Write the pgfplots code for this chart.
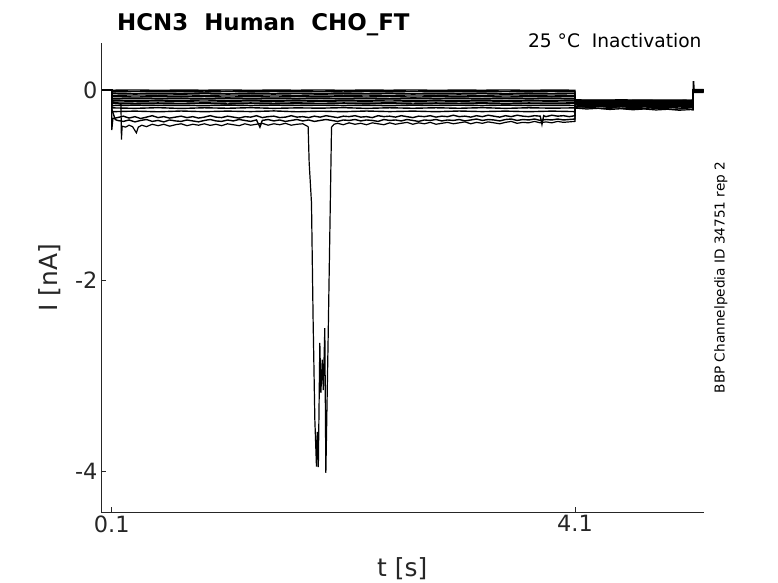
\documentclass[border=0pt]{standalone}
\usepackage{fontspec}
\setmainfont{DejaVu Sans}
\usepackage{pgfplots}
\pgfplotsset{compat=1.18}
\usepackage{pgfplotstable}
\definecolor{axc}{RGB}{38,38,38}

\pgfplotstableread{
t s1 s2 s3 s4 s5 s6 s7 s8 s9 s10 s11 s12
0.02 0 0 0 0 0 0 0 0 0 0 0 0
0.1 0 0 0 0 0 0 0 0 0 0 0 0
0.1  -0.003 -0.020 -0.034 -0.056 -0.070 -0.092 -0.106 -0.128 -0.142 -0.164 -0.188 -0.228
0.3   0.000 -0.016 -0.038 -0.052 -0.074 -0.088 -0.110 -0.124 -0.146 -0.160 -0.193 -0.222
0.5  -0.004 -0.019 -0.035 -0.055 -0.071 -0.091 -0.107 -0.127 -0.143 -0.163 -0.186 -0.229
0.7  -0.001 -0.017 -0.037 -0.051 -0.073 -0.089 -0.109 -0.123 -0.145 -0.161 -0.194 -0.221
0.9  -0.003 -0.021 -0.033 -0.056 -0.069 -0.092 -0.105 -0.128 -0.141 -0.165 -0.187 -0.228
1.1   0.000 -0.015 -0.038 -0.052 -0.075 -0.087 -0.110 -0.124 -0.147 -0.159 -0.192 -0.222
1.3  -0.004 -0.020 -0.035 -0.055 -0.070 -0.091 -0.106 -0.127 -0.142 -0.164 -0.186 -0.227
1.5  -0.001 -0.016 -0.037 -0.052 -0.074 -0.088 -0.109 -0.124 -0.146 -0.160 -0.193 -0.220
1.7  -0.003 -0.019 -0.034 -0.056 -0.071 -0.092 -0.107 -0.128 -0.143 -0.163 -0.188 -0.229
1.9   0.000 -0.017 -0.038 -0.051 -0.073 -0.087 -0.110 -0.123 -0.145 -0.160 -0.191 -0.223
2.1  -0.004 -0.021 -0.035 -0.055 -0.070 -0.091 -0.106 -0.127 -0.142 -0.164 -0.186 -0.228
2.3  -0.001 -0.016 -0.037 -0.053 -0.074 -0.089 -0.109 -0.125 -0.146 -0.161 -0.193 -0.221
2.5  -0.003 -0.020 -0.034 -0.056 -0.069 -0.092 -0.105 -0.128 -0.141 -0.165 -0.187 -0.227
2.7   0.000 -0.015 -0.038 -0.052 -0.075 -0.088 -0.110 -0.124 -0.147 -0.160 -0.192 -0.222
2.9  -0.004 -0.019 -0.035 -0.055 -0.071 -0.091 -0.107 -0.127 -0.143 -0.163 -0.187 -0.228
3.1  -0.001 -0.017 -0.037 -0.052 -0.073 -0.088 -0.109 -0.124 -0.145 -0.160 -0.192 -0.221
3.3  -0.003 -0.020 -0.034 -0.056 -0.070 -0.092 -0.106 -0.128 -0.142 -0.164 -0.186 -0.227
3.5   0.000 -0.016 -0.038 -0.051 -0.074 -0.087 -0.110 -0.123 -0.146 -0.159 -0.193 -0.222
3.7  -0.004 -0.020 -0.035 -0.055 -0.071 -0.091 -0.107 -0.127 -0.143 -0.164 -0.187 -0.228
3.9  -0.001 -0.016 -0.037 -0.053 -0.073 -0.089 -0.109 -0.125 -0.145 -0.161 -0.191 -0.222
4.1  -0.003 -0.019 -0.034 -0.056 -0.070 -0.092 -0.106 -0.128 -0.142 -0.163 -0.188 -0.227
4.1  -0.104 -0.110 -0.114 -0.121 -0.124 -0.131 -0.134 -0.141 -0.144 -0.151 -0.158 -0.171
4.3  -0.107 -0.108 -0.117 -0.119 -0.127 -0.129 -0.137 -0.139 -0.147 -0.149 -0.162 -0.168
4.5  -0.104 -0.111 -0.114 -0.122 -0.124 -0.132 -0.134 -0.142 -0.144 -0.152 -0.159 -0.172
4.7  -0.107 -0.109 -0.117 -0.119 -0.127 -0.129 -0.137 -0.139 -0.147 -0.150 -0.163 -0.169
4.9  -0.105 -0.112 -0.115 -0.122 -0.125 -0.132 -0.135 -0.142 -0.145 -0.153 -0.160 -0.173
5.1  -0.108 -0.109 -0.118 -0.120 -0.128 -0.130 -0.138 -0.140 -0.148 -0.150 -0.164 -0.170
5.12 -0.106 -0.111 -0.116 -0.121 -0.126 -0.131 -0.136 -0.141 -0.146 -0.151 -0.161 -0.172
5.12  0.004  0.002  0.000 -0.002 -0.004 -0.006 -0.008 -0.010 -0.012 -0.014 -0.016 -0.018
5.21  0.004  0.002  0.000 -0.002 -0.004 -0.006 -0.008 -0.010 -0.012 -0.014 -0.016 -0.018
}\band

\begin{document}
\begin{tikzpicture}
\useasboundingbox (-101bp,-71bp) rectangle (677bp,512bp);
\begin{axis}[at={(0,0)}, anchor=south west, scale only axis,
 width=603bp, height=469bp,
 xmin=0.0076, xmax=5.214, ymin=-4.43, ymax=0.493,
 axis x line*=bottom, axis y line*=left,
 xtick={0.1,4.1}, xticklabels={0.1,4.1},
 ytick={-4,-2,0}, yticklabels={-4,-2,0},
 tick align=inside, major tick length=5bp,
 every tick/.style={axc, line width=0.6bp},
 axis line style={axc, line width=0.7bp},
 ticklabel style={font=\fontsize{22.5}{22.5}\selectfont, text=axc},
]
\pgfplotsinvokeforeach{1,...,12}{\addplot[black, line width=1.4bp] table[x=t, y=s#1] {\band};}
% noisy trace 1
\addplot[black, line width=1.4bp] coordinates {(0.02,0)(0.1,0)(0.1,-0.42)(0.11,-0.30)(0.15,-0.29)(0.20,-0.275)(0.25,-0.295)(0.30,-0.28)(0.35,-0.30)(0.40,-0.285)(0.45,-0.27)(0.50,-0.29)(0.55,-0.28)(0.60,-0.295)(0.65,-0.285)(0.70,-0.275)(0.75,-0.29)(0.80,-0.28)(0.85,-0.295)(0.90,-0.285)(0.95,-0.27)(1.00,-0.285)(1.05,-0.29)(1.10,-0.275)(1.15,-0.285)(1.20,-0.295)(1.25,-0.28)(1.30,-0.285)(1.35,-0.27)(1.40,-0.29)(1.45,-0.28)(1.50,-0.275)(1.55,-0.29)(1.60,-0.285)(1.65,-0.27)(1.70,-0.285)(1.75,-0.28)(1.80,-0.29)(1.85,-0.275)(1.90,-0.285)(1.95,-0.27)(2.00,-0.28)(2.05,-0.29)(2.10,-0.275)(2.15,-0.28)(2.20,-0.27)(2.25,-0.285)(2.30,-0.28)(2.35,-0.29)(2.40,-0.27)(2.45,-0.28)(2.50,-0.275)(2.55,-0.285)(2.60,-0.27)(2.65,-0.28)(2.70,-0.29)(2.75,-0.275)(2.80,-0.28)(2.85,-0.27)(2.90,-0.285)(2.95,-0.275)(3.00,-0.28)(3.05,-0.265)(3.10,-0.28)(3.15,-0.275)(3.20,-0.285)(3.25,-0.27)(3.30,-0.28)(3.35,-0.265)(3.40,-0.275)(3.45,-0.285)(3.50,-0.27)(3.55,-0.28)(3.60,-0.265)(3.65,-0.275)(3.70,-0.28)(3.75,-0.27)(3.80,-0.275)(3.815,-0.36)(3.83,-0.27)(3.85,-0.28)(3.90,-0.265)(3.95,-0.275)(4.00,-0.27)(4.05,-0.28)(4.10,-0.27)
(4.1,-0.175)(4.2,-0.18)(4.3,-0.172)(4.4,-0.183)(4.5,-0.176)(4.6,-0.185)(4.7,-0.178)(4.8,-0.186)(4.9,-0.18)(5.0,-0.19)(5.1,-0.183)(5.12,-0.188)(5.12,-0.02)(5.21,-0.02)};
% noisy trace 2
\addplot[black, line width=1.4bp] coordinates {(0.02,0)(0.1,0)(0.1,-0.2)(0.13,-0.31)(0.15,-0.32)(0.2,-0.33)(0.25,-0.315)(0.3,-0.335)(0.35,-0.32)(0.4,-0.31)(0.45,-0.33)(0.5,-0.32)(0.55,-0.335)(0.6,-0.315)(0.65,-0.325)(0.7,-0.33)(0.75,-0.315)(0.8,-0.325)(0.85,-0.335)(0.9,-0.32)(0.95,-0.31)(1.0,-0.325)(1.05,-0.33)(1.1,-0.315)(1.15,-0.325)(1.2,-0.31)(1.25,-0.32)(1.3,-0.33)(1.35,-0.315)(1.38,-0.39)(1.40,-0.32)(1.45,-0.31)(1.5,-0.325)(1.55,-0.315)(1.6,-0.33)(1.65,-0.32)(1.7,-0.31)(1.75,-0.325)(1.8,-0.315)(1.85,-0.33)(1.9,-0.32)(1.95,-0.31)(2.0,-0.32)(2.05,-0.33)(2.1,-0.315)(2.15,-0.32)(2.2,-0.31)(2.25,-0.325)(2.3,-0.315)(2.35,-0.32)(2.4,-0.33)(2.45,-0.31)(2.5,-0.32)(2.55,-0.315)(2.6,-0.325)(2.65,-0.31)(2.7,-0.32)(2.75,-0.33)(2.8,-0.315)(2.85,-0.32)(2.9,-0.31)(2.95,-0.325)(3.0,-0.315)(3.05,-0.32)(3.1,-0.31)(3.15,-0.325)(3.2,-0.315)(3.25,-0.305)(3.3,-0.32)(3.35,-0.31)(3.4,-0.315)(3.45,-0.325)(3.5,-0.31)(3.55,-0.305)(3.6,-0.32)(3.65,-0.31)(3.7,-0.315)(3.75,-0.305)(3.8,-0.32)(3.85,-0.31)(3.9,-0.315)(3.95,-0.305)(4.0,-0.315)(4.05,-0.31)(4.1,-0.305)
(4.1,-0.185)(4.15,-0.192)(4.25,-0.186)(4.35,-0.195)(4.45,-0.188)(4.55,-0.197)(4.65,-0.19)(4.75,-0.2)(4.85,-0.193)(4.95,-0.203)(5.05,-0.196)(5.12,-0.205)(5.12,-0.025)(5.21,-0.025)};
% noisy trace 3 with the large inward excursion
\addplot[black, line width=1.2bp] coordinates {(0.02,0)(0.1,0)(0.1,-0.12)(0.15,-0.14)(0.18,-0.15)(0.184,-0.52)(0.19,-0.38)(0.22,-0.39)(0.25,-0.37)(0.28,-0.385)(0.313,-0.45)(0.33,-0.39)(0.36,-0.37)(0.4,-0.385)(0.45,-0.36)(0.5,-0.375)(0.55,-0.36)(0.6,-0.38)(0.65,-0.365)(0.7,-0.355)(0.75,-0.375)(0.8,-0.36)(0.85,-0.37)(0.9,-0.355)(0.95,-0.372)(1.0,-0.36)(1.05,-0.375)(1.1,-0.355)(1.15,-0.365)(1.2,-0.375)(1.25,-0.355)(1.3,-0.37)(1.35,-0.36)(1.4,-0.35)(1.45,-0.37)(1.5,-0.355)(1.55,-0.365)(1.6,-0.35)(1.65,-0.37)(1.7,-0.36)(1.75,-0.355)(1.796,-0.385)(1.805,-0.766)(1.825,-1.186)(1.839,-2.413)(1.854,-3.463)(1.868,-3.953)(1.875,-3.59)(1.884,-3.96)(1.897,-2.655)(1.906,-3.18)(1.918,-2.83)(1.927,-3.15)(1.94,-2.50)(1.949,-4.02)(1.969,-2.59)(1.998,-0.39)(2.02,-0.36)(2.05,-0.35)(2.1,-0.365)(2.15,-0.345)(2.2,-0.36)(2.25,-0.35)(2.3,-0.365)(2.35,-0.345)(2.4,-0.355)(2.45,-0.365)(2.5,-0.345)(2.55,-0.36)(2.6,-0.35)(2.65,-0.34)(2.7,-0.36)(2.75,-0.345)(2.8,-0.355)(2.85,-0.34)(2.9,-0.36)(2.95,-0.35)(3.0,-0.34)(3.05,-0.355)(3.1,-0.345)(3.15,-0.335)(3.2,-0.355)(3.25,-0.34)(3.3,-0.35)(3.35,-0.335)(3.4,-0.345)(3.45,-0.355)(3.5,-0.34)(3.55,-0.33)(3.6,-0.35)(3.65,-0.34)(3.7,-0.345)(3.75,-0.33)(3.8,-0.345)(3.85,-0.335)(3.9,-0.345)(3.95,-0.33)(4.0,-0.34)(4.05,-0.335)(4.1,-0.33)
(4.1,-0.19)(4.2,-0.2)(4.3,-0.193)(4.4,-0.205)(4.5,-0.197)(4.6,-0.208)(4.7,-0.2)(4.8,-0.21)(4.9,-0.203)(5.0,-0.213)(5.1,-0.206)(5.12,-0.21)(5.12,0.087)(5.125,0.087)(5.13,-0.01)(5.21,-0.01)};
\end{axis}
\node[anchor=base west, font=\fontsize{23}{23}\selectfont\bfseries, inner sep=0pt] at (16bp,481bp) {HCN3\ \ Human\ \ CHO\_FT};
\node[anchor=base east, font=\fontsize{18.7}{18.7}\selectfont, inner sep=0pt] at (600.7bp,464.3bp) {25 °C\ \ Inactivation};
\node[anchor=base, rotate=90, font=\fontsize{13.7}{13.7}\selectfont, inner sep=0pt] at (623.5bp,234.5bp) {BBP Channelpedia ID 34751 rep 2};
\node[anchor=base, font=\fontsize{25}{25}\selectfont, text=axc, inner sep=0pt] at (301.2bp,-64.7bp) {t [s]};
\node[anchor=base, rotate=90, font=\fontsize{25}{25}\selectfont, text=axc, inner sep=0pt] at (-43bp,234.5bp) {I [nA]};
\end{tikzpicture}
\end{document}
